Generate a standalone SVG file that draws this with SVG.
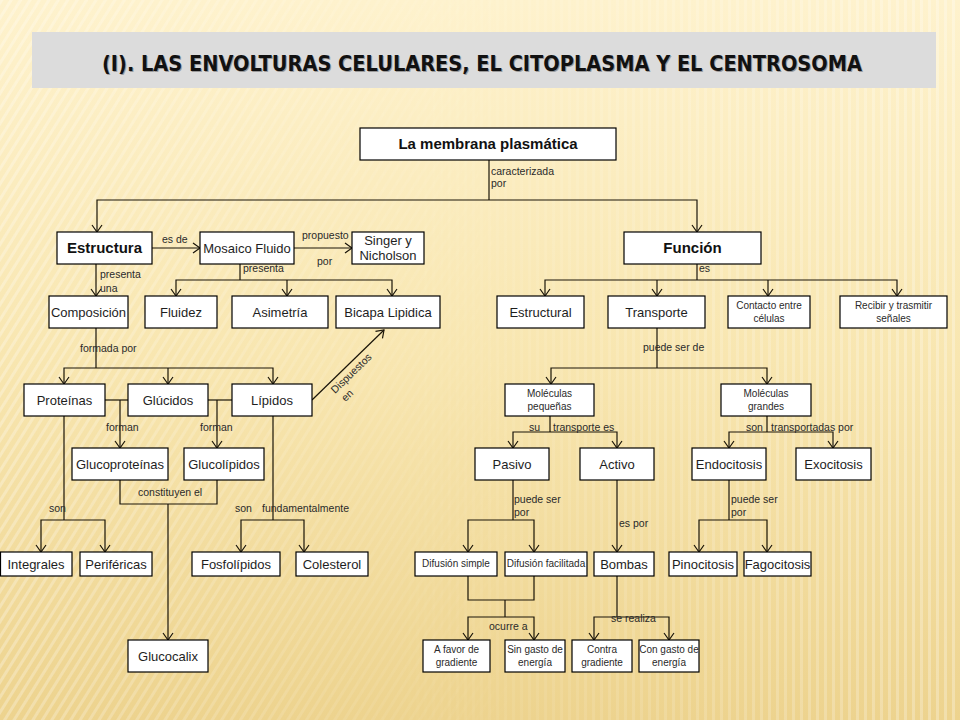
<svg xmlns="http://www.w3.org/2000/svg" width="960" height="720" viewBox="0 0 960 720">
<defs>
<linearGradient id="bg" x1="0" y1="0" x2="0" y2="1">
<stop offset="0" stop-color="#fef2cd"/>
<stop offset="0.5" stop-color="#f8e6b0"/>
<stop offset="1" stop-color="#edd38e"/>
</linearGradient>
<pattern id="stV" width="8" height="8" patternUnits="userSpaceOnUse">
<rect x="0" y="0" width="3" height="8" fill="#ffffff"/>
</pattern>
<pattern id="stD" width="8" height="8" patternUnits="userSpaceOnUse" patternTransform="rotate(32)">
<rect x="0" y="0" width="3" height="8" fill="#ffffff"/>
</pattern>
<linearGradient id="fadeL" x1="0" y1="0" x2="1" y2="0">
<stop offset="0" stop-color="#fff" stop-opacity="1"/>
<stop offset="1" stop-color="#fff" stop-opacity="0"/>
</linearGradient>
<linearGradient id="fadeR" x1="0" y1="0" x2="1" y2="0">
<stop offset="0" stop-color="#fff" stop-opacity="0"/>
<stop offset="1" stop-color="#fff" stop-opacity="1"/>
</linearGradient>
<mask id="mL"><rect x="0" y="0" width="520" height="720" fill="url(#fadeL)"/></mask>
<mask id="mR"><rect x="380" y="0" width="580" height="720" fill="url(#fadeR)"/></mask>
<marker id="ar" viewBox="-8 -6 10 12" refX="0" refY="0" markerWidth="10" markerHeight="12" markerUnits="userSpaceOnUse" orient="auto">
<path d="M-7,-5 L0,0 L-7,5" fill="none" stroke="#1a1408" stroke-width="1.2"/>
</marker>
</defs>
<style>
.box{fill:#ffffff;stroke:#000000;stroke-width:1.2}
.t{font-family:"Liberation Sans",Arial,sans-serif;font-size:13px;fill:#1e1e1e;text-anchor:middle}
.tb{font-family:"Liberation Sans",Arial,sans-serif;font-size:15px;font-weight:bold;fill:#111;text-anchor:middle}
.ts{font-family:"Liberation Sans",Arial,sans-serif;font-size:10px;fill:#2a2a2a;text-anchor:middle}
.lb{font-family:"Liberation Sans",Arial,sans-serif;font-size:10.5px;fill:#2a2a2a}
.c{fill:none;stroke:#1a1408;stroke-width:1.2}
</style>
<rect x="0" y="0" width="960" height="720" fill="url(#bg)"/>
<rect x="0" y="0" width="520" height="720" fill="url(#stD)" opacity="0.28" mask="url(#mL)"/>
<rect x="380" y="0" width="580" height="720" fill="url(#stV)" opacity="0.28" mask="url(#mR)"/>

<g id="title">
<rect x="32" y="32" width="904" height="56" fill="#dcdcdc"/>
<text x="483" y="72" font-family="DejaVu Sans,Verdana,sans-serif" font-size="21" font-weight="bold" fill="#9a9a9a" text-anchor="middle" textLength="760" lengthAdjust="spacingAndGlyphs">(I). LAS ENVOLTURAS CELULARES, EL CITOPLASMA Y EL CENTROSOMA</text>
<text x="482" y="71" font-family="DejaVu Sans,Verdana,sans-serif" font-size="21" font-weight="bold" fill="#111111" text-anchor="middle" textLength="760" lengthAdjust="spacingAndGlyphs">(I). LAS ENVOLTURAS CELULARES, EL CITOPLASMA Y EL CENTROSOMA</text>
</g>

<g id="connectors">
<path class="c" d="M489,160 V200"/>
<path class="c" d="M489,200 H97 V232" marker-end="url(#ar)"/>
<path class="c" d="M489,200 H697 V232" marker-end="url(#ar)"/>
<path class="c" d="M152,248 H200" marker-end="url(#ar)"/>
<path class="c" d="M294,248 H352" marker-end="url(#ar)"/>
<path class="c" d="M240,264 V280"/>
<path class="c" d="M240,280 H176 V296" marker-end="url(#ar)"/>
<path class="c" d="M240,280 H392 V296" marker-end="url(#ar)"/>
<path class="c" d="M287,280 V296" marker-end="url(#ar)"/>
<path class="c" d="M96,264 V296" marker-end="url(#ar)"/>
<path class="c" d="M697,264 V280"/>
<path class="c" d="M697,280 H545 V296" marker-end="url(#ar)"/>
<path class="c" d="M697,280 H897 V296" marker-end="url(#ar)"/>
<path class="c" d="M657,280 V296" marker-end="url(#ar)"/>
<path class="c" d="M768,280 V296" marker-end="url(#ar)"/>
<path class="c" d="M96,328 V368"/>
<path class="c" d="M96,368 H64 V384" marker-end="url(#ar)"/>
<path class="c" d="M96,368 H273 V384" marker-end="url(#ar)"/>
<path class="c" d="M168,368 V384" marker-end="url(#ar)"/>
<path class="c" d="M105,400 H128"/>
<path class="c" d="M120,400 V448" marker-end="url(#ar)"/>
<path class="c" d="M208,400 H232"/>
<path class="c" d="M217,400 V448" marker-end="url(#ar)"/>
<path class="c" d="M120,480 V504 H217 V480"/>
<path class="c" d="M168,504 V640" marker-end="url(#ar)"/>
<path class="c" d="M64,416 V520"/>
<path class="c" d="M64,520 H41 V552" marker-end="url(#ar)"/>
<path class="c" d="M64,520 H105 V552" marker-end="url(#ar)"/>
<path class="c" d="M273,416 V520"/>
<path class="c" d="M273,520 H241 V552" marker-end="url(#ar)"/>
<path class="c" d="M273,520 H304 V552" marker-end="url(#ar)"/>
<path class="c" d="M312,400 L384,330" marker-end="url(#ar)"/>
<path class="c" d="M657,328 V368"/>
<path class="c" d="M657,368 H551 V384" marker-end="url(#ar)"/>
<path class="c" d="M657,368 H767 V384" marker-end="url(#ar)"/>
<path class="c" d="M550,416 V432"/>
<path class="c" d="M550,432 H513 V448" marker-end="url(#ar)"/>
<path class="c" d="M550,432 H617 V448" marker-end="url(#ar)"/>
<path class="c" d="M767,416 V432"/>
<path class="c" d="M767,432 H729 V448" marker-end="url(#ar)"/>
<path class="c" d="M767,432 H833 V448" marker-end="url(#ar)"/>
<path class="c" d="M513,480 V520"/>
<path class="c" d="M513,520 H468 V552" marker-end="url(#ar)"/>
<path class="c" d="M513,520 H534 V552" marker-end="url(#ar)"/>
<path class="c" d="M617,480 V552" marker-end="url(#ar)"/>
<path class="c" d="M729,480 V520"/>
<path class="c" d="M729,520 H699 V552" marker-end="url(#ar)"/>
<path class="c" d="M729,520 H767 V552" marker-end="url(#ar)"/>
<path class="c" d="M468,576 V600 H534 V576"/>
<path class="c" d="M505,600 V617"/>
<path class="c" d="M505,617 H468 V640" marker-end="url(#ar)"/>
<path class="c" d="M505,617 H534 V640" marker-end="url(#ar)"/>
<path class="c" d="M617,576 V617"/>
<path class="c" d="M617,617 H594 V640" marker-end="url(#ar)"/>
<path class="c" d="M617,617 H669 V640" marker-end="url(#ar)"/>
</g>

<g id="labels">
<text class="lb" x="491" y="175">caracterizada</text>
<text class="lb" x="491" y="187">por</text>
<text class="lb" x="162" y="243" font-size="12">es de</text>
<text class="lb" x="302" y="239">propuesto</text>
<text class="lb" x="317" y="265">por</text>
<text class="lb" x="243" y="272">presenta</text>
<text class="lb" x="100" y="278">presenta</text>
<text class="lb" x="100" y="292">una</text>
<text class="lb" x="699" y="272">es</text>
<text class="lb" x="80" y="352">formada por</text>
<g transform="translate(335,394) rotate(-44)">
<text class="lb" x="0" y="0" font-size="12">Dispuestos</text>
<text class="lb" x="2" y="13" font-size="12">en</text>
</g>
<text class="lb" x="106" y="431">forman</text>
<text class="lb" x="200" y="431">forman</text>
<text class="lb" x="138" y="496">constituyen el</text>
<text class="lb" x="49" y="512">son</text>
<text class="lb" x="235" y="512">son</text>
<text class="lb" x="262" y="512">fundamentalmente</text>
<text class="lb" x="643" y="351">puede ser de</text>
<text class="lb" x="529" y="431">su</text>
<text class="lb" x="553" y="431">transporte es</text>
<text class="lb" x="746" y="431">son</text>
<text class="lb" x="771" y="431">transportadas por</text>
<text class="lb" x="514" y="503">puede ser</text>
<text class="lb" x="514" y="516">por</text>
<text class="lb" x="619" y="527">es por</text>
<text class="lb" x="731" y="503">puede ser</text>
<text class="lb" x="731" y="516">por</text>
<text class="lb" x="489" y="630">ocurre a</text>
<text class="lb" x="611" y="622">se realiza</text>
</g>

<g id="n-membrana"><rect class="box" x="360" y="128" width="256" height="32"/><text class="tb" x="488" y="149">La membrana plasmática</text></g>
<g id="n-estructura"><rect class="box" x="57" y="232" width="95" height="32"/><text class="tb" x="104.5" y="253">Estructura</text></g>
<g id="n-mosaico"><rect class="box" x="200" y="232" width="94" height="32"/><text class="t" x="247" y="253">Mosaico Fluido</text></g>
<g id="n-singer"><rect class="box" x="352" y="232" width="72" height="32"/><text class="t" x="388" y="245">Singer y</text><text class="t" x="388" y="260">Nicholson</text></g>
<g id="n-funcion"><rect class="box" x="624" y="232" width="137" height="32"/><text class="tb" x="692.5" y="253">Función</text></g>
<g id="n-composicion"><rect class="box" x="49" y="296" width="79" height="32"/><text class="t" x="88.5" y="317">Composición</text></g>
<g id="n-fluidez"><rect class="box" x="145" y="296" width="72" height="32"/><text class="t" x="181" y="317">Fluidez</text></g>
<g id="n-asimetria"><rect class="box" x="232" y="296" width="96" height="32"/><text class="t" x="280" y="317">Asimetría</text></g>
<g id="n-bicapa"><rect class="box" x="336" y="296" width="104" height="32"/><text class="t" x="388" y="317">Bicapa Lipidica</text></g>
<g id="n-estructural"><rect class="box" x="497" y="296" width="87" height="32"/><text class="t" x="540.5" y="317">Estructural</text></g>
<g id="n-transporte"><rect class="box" x="608" y="296" width="97" height="32"/><text class="t" x="656.5" y="317">Transporte</text></g>
<g id="n-contacto"><rect class="box" x="728" y="296" width="82" height="32"/><text class="ts" x="769" y="309" font-size="10.5">Contacto entre</text><text class="ts" x="769" y="322" font-size="10.5">células</text></g>
<g id="n-recibir"><rect class="box" x="840" y="296" width="107" height="32"/><text class="ts" x="893.5" y="309">Recibir y trasmitir</text><text class="ts" x="893.5" y="322">señales</text></g>
<g id="n-proteinas"><rect class="box" x="24" y="384" width="81" height="32"/><text class="t" x="64.5" y="405">Proteínas</text></g>
<g id="n-glucidos"><rect class="box" x="128" y="384" width="80" height="32"/><text class="t" x="168" y="405">Glúcidos</text></g>
<g id="n-lipidos"><rect class="box" x="232" y="384" width="80" height="32"/><text class="t" x="272" y="405">Lípidos</text></g>
<g id="n-glucoproteinas"><rect class="box" x="72" y="448" width="96" height="32"/><text class="t" x="120" y="469">Glucoproteínas</text></g>
<g id="n-glucolipidos"><rect class="box" x="184" y="448" width="80" height="32"/><text class="t" x="224" y="469">Glucolípidos</text></g>
<g id="n-glucocalix"><rect class="box" x="128" y="640" width="80" height="32"/><text class="t" x="168" y="661">Glucocalix</text></g>
<g id="n-integrales"><rect class="box" x="0.5" y="552" width="71.5" height="24"/><text class="t" x="36" y="569">Integrales</text></g>
<g id="n-perifericas"><rect class="box" x="80" y="552" width="72" height="24"/><text class="t" x="116" y="569">Periféricas</text></g>
<g id="n-fosfolipidos"><rect class="box" x="192" y="552" width="88" height="24"/><text class="t" x="236" y="569">Fosfolípidos</text></g>
<g id="n-colesterol"><rect class="box" x="296" y="552" width="72" height="24"/><text class="t" x="332" y="569">Colesterol</text></g>
<g id="n-mpequenas"><rect class="box" x="505" y="384" width="89" height="32"/><text class="ts" x="549.5" y="397">Moléculas</text><text class="ts" x="549.5" y="410">pequeñas</text></g>
<g id="n-mgrandes"><rect class="box" x="721" y="384" width="90" height="32"/><text class="ts" x="766" y="397">Moléculas</text><text class="ts" x="766" y="410">grandes</text></g>
<g id="n-pasivo"><rect class="box" x="475" y="448" width="74" height="32"/><text class="t" x="512" y="469">Pasivo</text></g>
<g id="n-activo"><rect class="box" x="580" y="448" width="74" height="32"/><text class="t" x="617" y="469">Activo</text></g>
<g id="n-endocitosis"><rect class="box" x="692" y="448" width="74" height="32"/><text class="t" x="729" y="469">Endocitosis</text></g>
<g id="n-exocitosis"><rect class="box" x="796" y="448" width="75" height="32"/><text class="t" x="833.5" y="469">Exocitosis</text></g>
<g id="n-dsimple"><rect class="box" x="415" y="552" width="82" height="24"/><text class="ts" x="456" y="567" font-size="9.5">Difusión simple</text></g>
<g id="n-dfacilitada"><rect class="box" x="505" y="552" width="82" height="24"/><text class="ts" x="546" y="567" font-size="9.5">Difusión facilitada</text></g>
<g id="n-bombas"><rect class="box" x="594" y="552" width="60" height="24"/><text class="t" x="624" y="569">Bombas</text></g>
<g id="n-pinocitosis"><rect class="box" x="669" y="552" width="68" height="24"/><text class="t" x="703" y="569">Pinocitosis</text></g>
<g id="n-fagocitosis"><rect class="box" x="744" y="552" width="67" height="24"/><text class="t" x="777.5" y="569">Fagocitosis</text></g>
<g id="n-afavor"><rect class="box" x="423" y="640" width="67" height="32"/><text class="ts" x="456.5" y="653" font-size="10.5">A favor de</text><text class="ts" x="456.5" y="666" font-size="10.5">gradiente</text></g>
<g id="n-singasto"><rect class="box" x="505" y="640" width="60" height="32"/><text class="ts" x="535" y="653" font-size="10.5">Sin gasto de</text><text class="ts" x="535" y="666" font-size="10.5">energía</text></g>
<g id="n-contra"><rect class="box" x="572" y="640" width="60" height="32"/><text class="ts" x="602" y="653" font-size="10.5">Contra</text><text class="ts" x="602" y="666" font-size="10.5">gradiente</text></g>
<g id="n-congasto"><rect class="box" x="639" y="640" width="60" height="32"/><text class="ts" x="669" y="653" font-size="10.5">Con gasto de</text><text class="ts" x="669" y="666" font-size="10.5">energía</text></g>
</svg>
